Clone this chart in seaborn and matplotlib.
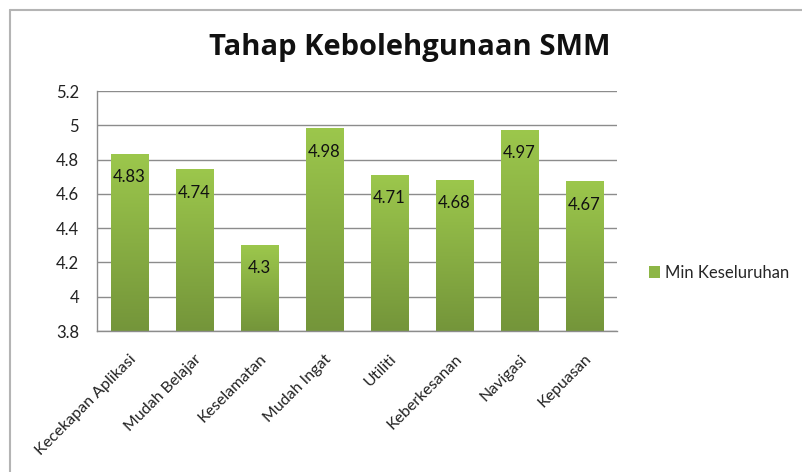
import matplotlib
matplotlib.use("Agg")
import matplotlib.pyplot as plt
import seaborn as sns
import numpy as np
import pandas as pd
from matplotlib.colors import LinearSegmentedColormap
from matplotlib.lines import Line2D
from matplotlib.patches import Patch

# Data
categories = ['Kecekapan Aplikasi', 'Mudah Belajar', 'Keselamatan', 'Mudah Ingat',
              'Utiliti', 'Keberkesanan', 'Navigasi', 'Kepuasan']
values = [4.83, 4.74, 4.3, 4.98, 4.71, 4.68, 4.97, 4.67]
yticks = [3.8, 4, 4.2, 4.4, 4.6, 4.8, 5, 5.2]
series_name = 'Min Keseluruhan'

df = pd.DataFrame({'kategori': categories, 'min': values})

sns.set_theme(style="white")
plt.rcParams['font.family'] = ['Lato', 'DejaVu Sans']

fig = plt.figure(figsize=(8.03, 4.72), dpi=100)
ax = fig.add_axes([97 / 803, 1 - 331 / 472, 520 / 803, 240 / 472])

sns.barplot(data=df, x='kategori', y='min', color='#8DB646', width=0.58, ax=ax)

ymin, ymax = 3.8, 5.2
ax.set_ylim(ymin, ymax)

# gradient fill like the Excel bars
grad_cmap = LinearSegmentedColormap.from_list('grn', ['#74953A', '#9CC74C'])
grad = np.linspace(0, 1, 256).reshape(-1, 1)
for p in ax.patches:
    x0 = p.get_x()
    w = p.get_width()
    top = p.get_height()
    p.set_facecolor('none')
    p.set_edgecolor('none')
    ax.imshow(grad, cmap=grad_cmap, origin='lower', aspect='auto',
              extent=(x0, x0 + w, ymin, top), zorder=2)
    ax.annotate(f'{top:g}', (x0 + w / 2, top), xytext=(0, -16.5),
                textcoords='offset points', ha='center', va='center',
                fontsize=12, color='#111111', zorder=3)

ax.set_xlim(-0.5, len(categories) - 0.5)
ax.set_ylim(ymin, ymax)

# grid and spines
ax.set_yticks(yticks)
ax.set_yticklabels([f'{t:g}' for t in yticks], fontsize=12, color='#222222')
ax.yaxis.grid(True, color='#8c8c8c', lw=1)
ax.set_axisbelow(True)
for s in ['top', 'right']:
    ax.spines[s].set_visible(False)
for s in ['left', 'bottom']:
    ax.spines[s].set_color('#8c8c8c')
    ax.spines[s].set_linewidth(1)
ax.tick_params(axis='y', length=0, pad=13)
ax.tick_params(axis='x', length=0, pad=15)
ax.set_xlabel('')
ax.set_ylabel('')
ax.set_xticks(range(len(categories)))
ax.set_xticklabels(categories, rotation=45, ha='right', rotation_mode='anchor',
                   fontsize=11.5, color='#222222')

fig.text(410 / 803, 1 - 47 / 472, 'Tahap Kebolehgunaan SMM', ha='center', va='center',
         fontsize=21, fontweight='bold', color='#111111',
         family=['Open Sans', 'DejaVu Sans'])

handles = [Patch(facecolor='#8DB646', edgecolor='none', label=series_name)]
fig.legend(handles=handles, loc='center left', bbox_to_anchor=(642 / 803, 1 - 273 / 472),
           frameon=False, fontsize=12, handlelength=0.7, handleheight=0.7,
           handletextpad=0.3, borderaxespad=0)

# chart area border
fig.add_artist(Line2D([10 / 803, 1], [1 - 10 / 472] * 2, transform=fig.transFigure,
                      color='#b4b4b4', lw=1.5))
fig.add_artist(Line2D([10 / 803] * 2, [0, 1 - 10 / 472], transform=fig.transFigure,
                      color='#b4b4b4', lw=1.5))

fig.savefig('out.png', dpi=100)
